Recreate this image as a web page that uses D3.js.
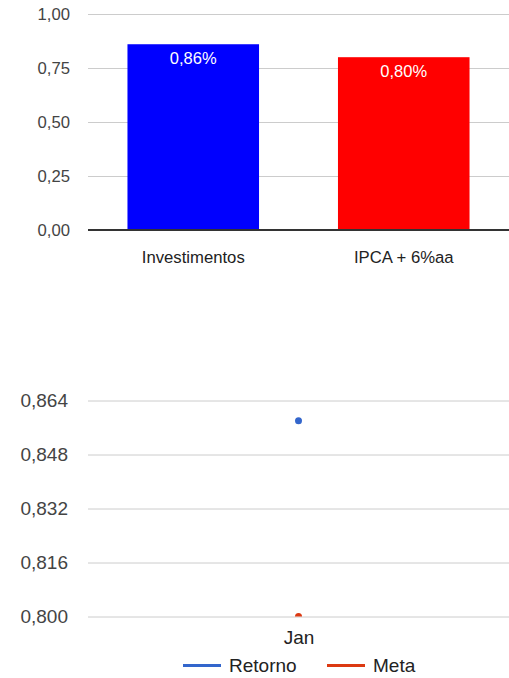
<!DOCTYPE html>
<html>
<head>
<meta charset="utf-8">
<script src="https://cdn.jsdelivr.net/npm/d3@7"></script>
<style>
  html, body { margin: 0; padding: 0; background: #fff; }
  svg { display: block; font-family: Arial, "Liberation Sans", sans-serif; }
</style>
</head>
<body>
<svg id="chart" width="509" height="678"></svg>
<script>
// ---- Data ----
const barCategories = ["Investimentos", "IPCA + 6%aa"];
const barValues = [0.86, 0.80];
const barLabels = ["0,86%", "0,80%"];
const barColors = ["#0000ff", "#ff0000"];
const barTicks = [0, 0.25, 0.5, 0.75, 1.0];

const lineCategories = ["Jan"];
const retornoValues = [0.858];
const metaValues = [0.800];
const lineSeriesNames = ["Retorno", "Meta"];
const lineSeriesColors = ["#3366cc", "#dc3912"];
const lineTicks = [0.800, 0.816, 0.832, 0.848, 0.864];

const locale = d3.formatLocale({decimal: ",", thousands: ".", grouping: [3], currency: ["R$", ""]});
const fmt2 = locale.format(".2f");
const fmt3 = locale.format(".3f");

const svg = d3.select("#chart");

// ---- Top bar chart ----
const tLeft = 88, tRight = 509, tTop = 14, tBottom = 230;
const yTop = d3.scaleLinear().domain([0, 1]).range([tBottom, tTop]);
const xTop = d3.scaleBand().domain(barCategories).range([tLeft, tRight])
  .paddingInner(0.375).paddingOuter(0.1875);

const gy1 = svg.append("g").attr("transform", `translate(${tLeft},0)`)
  .call(d3.axisLeft(yTop).tickValues(barTicks).tickSize(-(tRight - tLeft)).tickPadding(18).tickFormat(fmt2));
gy1.select(".domain").remove();
gy1.selectAll(".tick line").attr("stroke", "#cccccc").attr("stroke-width", 1);
gy1.selectAll(".tick text").attr("fill", "#444").style("font-size", "16.7px")
  .style("font-family", "Arial, 'Liberation Sans', sans-serif");

svg.append("g").selectAll("rect").data(barValues).join("rect")
  .attr("x", (d, i) => xTop(barCategories[i]))
  .attr("width", xTop.bandwidth())
  .attr("y", d => yTop(d))
  .attr("height", d => yTop(0) - yTop(d))
  .attr("fill", (d, i) => barColors[i]);

svg.append("g").selectAll("text").data(barValues).join("text")
  .attr("x", (d, i) => xTop(barCategories[i]) + xTop.bandwidth() / 2)
  .attr("y", d => yTop(d) + 19.5)
  .attr("text-anchor", "middle")
  .attr("fill", "#ffffff")
  .style("font-size", "16.5px")
  .text((d, i) => barLabels[i]);

// baseline
svg.append("line")
  .attr("x1", tLeft).attr("x2", tRight)
  .attr("y1", yTop(0)).attr("y2", yTop(0))
  .attr("stroke", "#333").attr("stroke-width", 2);

const gx1 = svg.append("g").attr("transform", `translate(0,${tBottom})`)
  .call(d3.axisBottom(xTop).tickSize(0).tickPadding(21));
gx1.select(".domain").remove();
gx1.selectAll(".tick text").attr("fill", "#222").style("font-size", "16.7px")
  .style("font-family", "Arial, 'Liberation Sans', sans-serif");

// ---- Bottom point/line chart ----
const bLeft = 88, bRight = 509, bTop = 400.5, bBottom = 616.5;
const yBot = d3.scaleLinear().domain([0.800, 0.864]).range([bBottom, bTop]);
const xBot = d3.scalePoint().domain(lineCategories).range([bLeft, bRight]).padding(0.5);

const gy2 = svg.append("g").attr("transform", `translate(${bLeft},0)`)
  .call(d3.axisLeft(yBot).tickValues(lineTicks).tickSize(-(bRight - bLeft)).tickPadding(20).tickFormat(fmt3));
gy2.select(".domain").remove();
gy2.selectAll(".tick line").attr("stroke", "#cccccc").attr("stroke-width", 1);
gy2.selectAll(".tick text").attr("fill", "#444").style("font-size", "19px")
  .style("font-family", "Arial, 'Liberation Sans', sans-serif");

svg.append("clipPath").attr("id", "plotclip")
  .append("rect").attr("x", bLeft).attr("y", bTop - 10)
  .attr("width", bRight - bLeft).attr("height", bBottom - bTop + 10);

const seriesData = [retornoValues, metaValues];
const plot = svg.append("g").attr("clip-path", "url(#plotclip)");
seriesData.forEach((vals, si) => {
  const line = d3.line().x((d, i) => xBot(lineCategories[i])).y(d => yBot(d));
  plot.append("path").datum(vals).attr("d", line)
    .attr("fill", "none").attr("stroke", lineSeriesColors[si]).attr("stroke-width", 2);
  plot.selectAll(null).data(vals).join("circle")
    .attr("cx", (d, i) => xBot(lineCategories[i]))
    .attr("cy", d => yBot(d))
    .attr("r", 3.5)
    .attr("fill", lineSeriesColors[si]);
});

const gx2 = svg.append("g").attr("transform", `translate(0,${bBottom})`)
  .call(d3.axisBottom(xBot).tickSize(0).tickPadding(14));
gx2.select(".domain").remove();
gx2.selectAll(".tick text").attr("fill", "#222").style("font-size", "19px")
  .style("font-family", "Arial, 'Liberation Sans', sans-serif");

// legend
const legendX = [183, 327];
const legendY = 665.5;
const leg = svg.append("g");
lineSeriesNames.forEach((name, i) => {
  leg.append("line")
    .attr("x1", legendX[i]).attr("x2", legendX[i] + 38)
    .attr("y1", legendY).attr("y2", legendY)
    .attr("stroke", lineSeriesColors[i]).attr("stroke-width", 3);
  leg.append("text")
    .attr("x", legendX[i] + 46).attr("y", legendY)
    .attr("dy", "0.35em")
    .attr("fill", "#222")
    .style("font-size", "19px")
    .text(name);
});
</script>
</body>
</html>
